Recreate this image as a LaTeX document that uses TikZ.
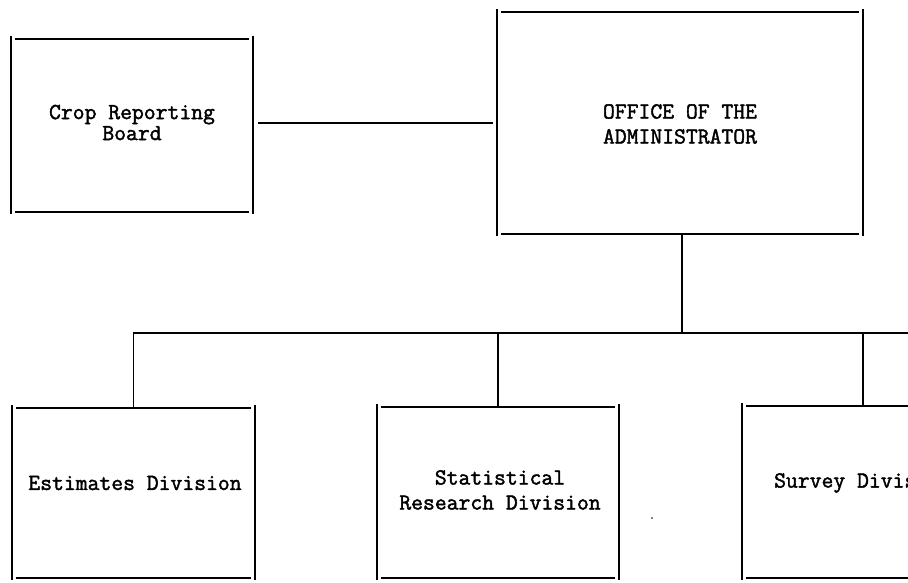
\documentclass[tikz,border=0pt]{standalone}
\usepackage{fontspec}
\newfontfamily\typer{Latin Modern Mono}[FakeBold=1.8]
\newcommand{\tickbox}[1]{%
  \draw ([yshift=3pt]#1.north west) -- ([yshift=-2pt]#1.south west);
  \draw ([yshift=3pt]#1.north east) -- ([yshift=-2pt]#1.south east);
  \draw ([xshift=4pt]#1.north west) -- ([xshift=-4pt]#1.north east);
  \draw ([xshift=4pt]#1.south west) -- ([xshift=-4pt]#1.south east);
}
\begin{document}
\begin{tikzpicture}[x=1pt,y=-1pt,line width=1.5pt,
  area/.style={inner sep=0pt,outer sep=0pt,minimum width=242pt},
  lbl/.style={inner sep=0pt,align=center,font=\typer\fontsize{23pt}{25pt}\selectfont},
  lbltight/.style={lbl,font=\typer\fontsize{23pt}{21pt}\selectfont}]
\useasboundingbox (0,0) rectangle (908,583);
\clip (0,0) rectangle (908,583);
% boxes
\node[area,minimum height=173pt] (crop) at (132,125.5) {};
\node[area,minimum width=366pt,minimum height=222pt] (office) at (680,123) {};
\node[area,minimum width=243pt,minimum height=170pt] (est) at (133.5,493) {};
\node[area,minimum height=171pt] (stat) at (498,492.5) {};
\node[area,minimum height=172pt] (surv) at (863,492) {};
\tickbox{crop}
\tickbox{office}
\tickbox{est}
\tickbox{stat}
\tickbox{surv}
% labels
\node[lbltight] (croplbl) at (132,122.5) {Crop Reporting\\Board};
\node[lbl] (officelbl) at (680,124) {OFFICE OF THE\\ADMINISTRATOR};
\node[lbl] (estlbl) at (135,483) {Estimates Division};
\node[lbl] (statlbl) at (500,490) {Statistical\\Research Division};
\node[lbl] (survlbl) at (863,483) {Survey Division};
% connectors
\coordinate (busL) at (133,333);
\coordinate (busR) at (920,333);
\coordinate (officeconn) at (682,333);
\draw[shorten <=5pt,shorten >=4pt] (crop.east |- 0,123) -- (office.west |- 0,123);
\draw (office.south -| officeconn) -- (officeconn);
\draw (busL) -- (busR);
\draw (est.north |- busL) -- (est.north);
\draw (stat.north |- busL) -- (stat.north);
\draw (surv.north |- busL) -- (surv.north);
\fill (652,518) circle (0.9pt);
\end{tikzpicture}
\end{document}
